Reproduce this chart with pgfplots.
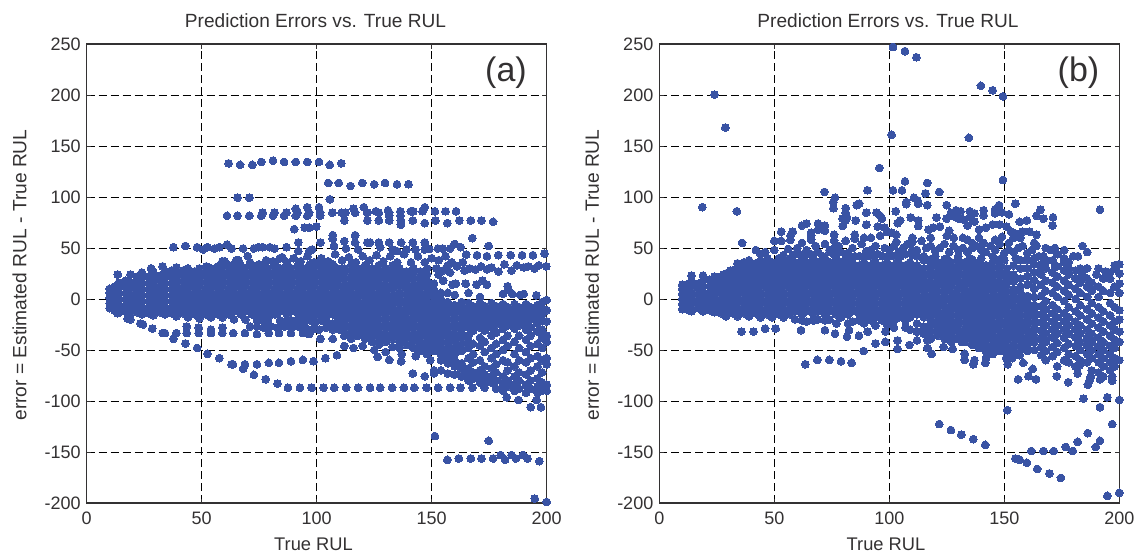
\documentclass[border=0pt]{standalone}
\usepackage{pgfplots}
\pgfplotsset{compat=1.18}
\usepackage{fontspec}
\setmainfont{Liberation Sans}
\definecolor{dotc}{HTML}{3953A4}
\definecolor{txt}{HTML}{333132}
\pgfplotsset{panel/.style={
  anchor=south west, scale only axis, width=460pt, height=459pt,
  xmin=0,xmax=200,ymin=-200,ymax=250,
  xtick={0,50,100,150,200}, ytick={-200,-150,-100,-50,0,50,100,150,200,250},
  clip=false, grid=major, tick align=inside, major tick length=4.5pt,
  grid style={black,line width=0.6pt,dash pattern=on 8pt off 4pt},
  axis line style={txt,line width=1.1pt}, tick style={txt,line width=0.7pt},
  /pgf/number format/assume math mode=true,
  tick label style={text=txt,font=\fontsize{18}{20}\selectfont},
  yticklabel style={xshift=-2.5pt}, xticklabel style={yshift=-5pt},
  scaled ticks=false,
}}
\tikzset{lbl/.style={text=txt,inner sep=0pt}}
\begin{document}
\begin{tikzpicture}[x=1pt,y=1pt]
\path[use as bounding box] (0,0) rectangle (1139,552);
\begin{axis}[panel,at={(86.7pt,49pt)}]
\addplot[only marks,mark=*,mark size=3.9pt,mark options={draw=dotc,fill=dotc,line width=0pt}] coordinates {
(61.7,133)(66.7,131.5)(72,131.5)(75.9,134.4)(81,135.7)(85.8,134.4)(90.9,134.4)(95.9,134.4)(101,134.4)(105.7,131.5)(110.7,133)
(105,113.8)(109.6,113.8)(114.7,110.8)(119.8,113.8)(125,112.5)(129.7,113.8)(134.9,112.5)(139.9,112.5)
(65.6,99.3)(70.7,99.3)(105.7,97.7)
(61,81.6)(65.6,81.6)(70.7,81.6)(75.9,81.6)(76.5,84.6)(81,81.6)(81.7,84.6)(85.8,81.6)(86.8,84.6)(90.9,81.6)(91.7,84.6)(90.9,88.5)(95.9,90)(95.9,81.6)(96.7,84.6)(101,90)(101.5,84.6)(101.5,81.6)(106.8,84.6)(110.9,84.6)(112.5,84.6)(116,88.5)(116.7,84.6)(120.5,90)(122,84.6)(125.7,86)(127,84.6)(131,87)(131.5,84.6)(131.5,81.6)(136.4,86)(136.4,81.6)(140.9,86)(142,86)(146,86)(147,90)(151.4,86)(156,86)(160.6,86)
(112,77)(122,77)(127,77)(131.5,77)(136.6,77)(136.6,72.8)(141.8,77)(147,74.4)(151.6,77)(156.8,74.4)(162,77)(167,77)(171.6,77)(176.7,75.7)
(90.2,68.5)(94.8,70)(96.7,70)(99.8,71)
(107,62.6)(107,59)(116.7,62.6)(112,56.7)(116.7,55.4)(122,55.4)(123.2,55.4)(127,55.4)(131.5,55.4)(136.7,55.4)(141.8,55.4)(147,55.4)(92,55.4)(101.6,55.4)(167.7,59.7)(174.8,52)(160,54)
(37.7,50.8)(42.9,52)(48,50.8)(50.6,48.5)(52.5,50.8)(55.7,49.5)(57.7,50.8)(61,53.4)(63,49.5)(68,49.5)(72.7,49.5)(74.6,50.8)(76.5,50.8)(79.6,50.8)(81.7,49.5)(86.9,50.8)(92,47)(96.7,47)(98,48.5)(107.5,52)(112.7,49.5)(118,48.5)(127.6,50.8)(133,48.5)(134.9,47)(139,48.5)(143,48.5)(147,48.5)(149,49)(152.7,49.5)(154.7,49.5)(158,49.5)(162.6,50.8)
(165,43.6)(169.7,43)(174,42)(179,43)(184.3,43)(189.3,43)(194,43)(199,44.6)
(157,33)(158.7,36)(161,32)(163.5,36)(164.3,28)(166.5,30)(169,29)(171.5,32)(174,29)(176,31)(179,27)(181.6,34)(184.7,28)(187,33)(190,31)(192,32)(194.7,30)(196.6,33)(199.8,32)
(153,24)(155,18)(159,14)(160.5,15)(164.8,15)(169.5,14)(172,18)(174,14)(183,12.5)(181,5)(185,5)(183.3,9)(188.5,4)(190,5)(195.5,3.6)(200,-1)
(66,38)(60,37)(64,34)(71,36)(75,34)(78,38)(81,37)(84,40)(87,36)(90,40)(93,37)(96,42)(99,36)(102,40)(105,37)(108,44)(111,38)(114,41)(117,36)(120,42)(123,38)(126,43)(129,37)(132,42)(135,36)(138,44)(141,36)(144,42)(147,36)(150,40)(153,38)(156,42)(148,30)(152,30)(155,28)(158,26)
(87.5,-87)(92.7,-87)(97.8,-87)(103,-87)(107.6,-87)(112.8,-87)(118,-87)(123.2,-87)(127.6,-87)(132.8,-87)(137.9,-87)(142.4,-87)(147.8,-87)(152.8,-87)(158,-87)(162.5,-87)(167.7,-87)
(83,-83)(77.8,-78.7)(72.7,-74.4)(68,-68.5)(63.6,-64)(57.7,-58)(52.5,-53.8)(48,-48)(42.9,-43.6)(37.7,-39)
(63,-64)(68.8,-64)(74,-64)(79.2,-62.6)(83.6,-62.6)(88.8,-61)(94,-59.7)(98.6,-61)(103.8,-58)(108.8,-55)
(28.5,-29)(33,-33.4)(34,-33.4)(39,-33.4)(43.5,-33.4)(48.7,-33.4)(54,-33.4)(59,-33.4)(63.7,-33.4)(68.8,-33.4)(74,-34.4)(79.2,-33.4)(83.6,-33.4)(88.8,-33.4)(94,-33.4)(96.7,-34.4)(101.6,-39)(107,-39)
(43.5,-27)(48.7,-28)(54,-30)(59,-28)(17.8,-19.3)(19,-20)(23.3,-24)(24.5,-25)(13.4,-14)
(71,-27)(74,-27)(77,-28)(80,-27)(83,-28)(86,-27)(89,-28)(92,-27)(95,-28)(98,-30)(101,-30)(104,-28)(107,-30)(110,-30)
(182.6,-96.4)(187.7,-99)(195.6,-99)(193,-106)(197.5,-106)(151.4,-134.4)(174.8,-139)(156.8,-157.7)(161.8,-156.4)(167,-156.4)(171.6,-156.4)(176.7,-156.4)(180,-153)(181.9,-157.7)(184.7,-153)(186.6,-156.4)(189.7,-153)(191.6,-156.4)(196.8,-159)(194.8,-195.7)(200,-199)
(141.8,-73)(147,-75.7)(149.4,-60)(136.7,-61)(131.5,-59.7)(126.5,-56.7)(112,-46)(116,-48)(120,-46)(125,-50)(130,-52)(137,-54)(143,-56)
(10,-9)(10,-4)(10,1)(10,6)(10,10)(12,-11)(12,-6)(12,0)(12,6)(12,12)(14,-13)(14,-7)(14,-1)(14,5)(14,11)(13.5,24)(14,16)
(17,-12)(17,-6)(17,0)(17,6)(17,12)(17,18)(19,-14)(19,-8)(19,-2)(19,4)(19,10)(19,16)(19,24)(22,-13)(22,-7)(22,-1)(22,5)(22,11)(22,17)(22,22)
(24,-15)(24,-9)(24,-3)(24,3)(24,9)(24,15)(24,21)(24,26)(27,-14)(27,-8)(27,-2)(27,4)(27,10)(27,16)(27,22)(28,30)(29,-16)(29,-10)(29,-4)(29,2)(29,8)(29,14)(29,20)(29,26)
(32,-13)(32,-7)(32,-1)(32,5)(32,11)(32,17)(32,23)(33,32)(34,-15)(34,-9)(34,-3)(34,3)(34,9)(34,15)(34,21)(34,27)(37,-14)(37,-8)(37,-2)(37,4)(37,10)(37,16)(37,22)(37,28)
(39,-17)(39,-11)(39,-5)(39,1)(39,7)(39,13)(39,19)(39,25)(39,31)(42,-14)(42,-8)(42,-2)(42,4)(42,10)(42,16)(42,22)(42,28)(44,-18)(44,-12)(44,-6)(44,0)(44,6)(44,12)(44,18)(44,24)(44,30)
(47,-15)(47,-9)(47,-3)(47,3)(47,9)(47,15)(47,21)(47,27)(49,-19)(49,-12)(49,-6)(49,0)(49,6)(49,12)(49,18)(49,24)(49,30)(52,-15)(52,-9)(52,-3)(52,3)(52,9)(52,15)(52,21)(52,27)(52,32)
(54,-18)(54,-12)(54,-6)(54,0)(54,6)(54,12)(54,18)(54,24)(54,30)(57,-15)(57,-9)(57,-3)(57,3)(57,9)(57,15)(57,21)(57,27)(57,32)(59,-18)(59,-12)(59,-6)(59,0)(59,6)(59,12)(59,18)(59,24)(59,30)(59,37)
(62,-15)(62,-9)(62,-3)(62,3)(62,9)(62,15)(62,21)(62,27)(62,33)(64,-20)(64,-12)(64,-6)(64,0)(64,6)(64,12)(64,18)(64,24)(64,30)(65,38)(67,-15)(67,-9)(67,-3)(67,3)(67,9)(67,15)(67,21)(67,27)(67,33)
(69,-20)(69,-12)(69,-6)(69,0)(69,6)(69,12)(69,18)(69,24)(69,30)(72,-15)(72,-9)(72,-3)(72,3)(72,9)(72,15)(72,21)(72,27)(72,33)(70,42)(74,-21)(74,-18)(74,-12)(74,-6)(74,0)(74,6)(74,12)(74,18)(74,24)(74,30)
(77,-21)(77,-15)(77,-9)(77,-3)(77,3)(77,9)(77,15)(77,21)(77,27)(77,33)(79,-24)(79,-18)(79,-12)(79,-6)(79,0)(79,6)(79,12)(79,18)(79,24)(79,30)(82,-15)(82,-9)(82,-3)(82,3)(82,9)(82,15)(82,21)(82,27)(82,33)
(84,-21)(84,-12)(84,-6)(84,0)(84,6)(84,12)(84,18)(84,24)(84,30)(85,41)(87,-21)(87,-15)(87,-9)(87,-3)(87,3)(87,9)(87,15)(87,21)(87,27)(87,34)(89,-21)(89,-12)(89,-6)(89,0)(89,6)(89,12)(89,18)(89,24)(89,30)
(92,-21)(92,-15)(92,-9)(92,-3)(92,3)(92,9)(92,15)(92,21)(92,27)(92,34)(94,-24)(94,-18)(94,-12)(94,-6)(94,0)(94,6)(94,12)(94,18)(94,24)(94,30)(97,-21)(97,-15)(97,-9)(97,-3)(97,3)(97,9)(97,15)(97,21)(97,27)(97,34)
(99,-24)(99,-18)(99,-12)(99,-6)(99,0)(99,6)(99,12)(99,18)(99,24)(99,30)(102,-21)(102,-15)(102,-9)(102,-3)(102,3)(102,9)(102,15)(102,21)(102,27)(102,34)(104,-22)(104,-18)(104,-12)(104,-6)(104,0)(104,6)(104,12)(104,18)(104,24)(104,30)
(107,-24)(107,-15)(107,-9)(107,-3)(107,3)(107,9)(107,15)(107,21)(107,27)(107,34)(109,-24)(109,-18)(109,-12)(109,-6)(109,0)(109,6)(109,12)(109,18)(109,24)(109,30)
(112,-36)(112,-30)(112,-24)(112,-18)(112,-12)(112,-6)(112,0)(112,6)(112,12)(112,18)(112,24)(112,30)
(115,-39)(115,-33)(115,-27)(115,-21)(115,-15)(115,-9)(115,-3)(115,3)(115,9)(115,15)(115,21)(115,27)(115,33)
(118,-36)(118,-30)(118,-24)(118,-18)(118,-12)(118,-6)(118,0)(118,6)(118,12)(118,18)(118,24)(118,30)
(121,-39)(121,-33)(121,-27)(121,-21)(121,-15)(121,-9)(121,-3)(121,3)(121,9)(121,15)(121,21)(121,27)(121,33)
(124,-42)(124,-36)(124,-30)(124,-24)(124,-18)(124,-12)(124,-6)(124,0)(124,6)(124,12)(124,18)(124,24)(124,30)
(127,-45)(127,-39)(127,-33)(127,-27)(127,-21)(127,-15)(127,-9)(127,-3)(127,3)(127,9)(127,15)(127,21)(127,27)(127,33)
(130,-42)(130,-36)(130,-30)(130,-24)(130,-18)(130,-12)(130,-6)(130,0)(130,6)(130,12)(130,18)(130,24)(130,30)
(133,-47)(133,-39)(133,-33)(133,-27)(133,-21)(133,-15)(133,-9)(133,-3)(133,3)(133,9)(133,15)(133,21)(133,27)(133,33)
(136,-48)(136,-42)(136,-36)(136,-30)(136,-24)(136,-18)(136,-12)(136,-6)(136,0)(136,6)(136,12)(136,18)(136,24)(136,30)
(139,-45)(139,-39)(139,-33)(139,-27)(139,-21)(139,-15)(139,-9)(139,-3)(139,3)(139,9)(139,15)(139,21)(139,27)
(142,-48)(142,-42)(142,-36)(142,-30)(142,-24)(142,-18)(142,-12)(142,-6)(142,0)(142,6)(142,12)(142,18)(142,24)(142,30)
(145,-51)(145,-45)(145,-39)(145,-33)(145,-27)(145,-21)(145,-15)(145,-9)(145,-3)(145,3)(145,9)(145,15)(145,21)(145,27)
(148,-54)(148,-48)(148,-42)(148,-36)(148,-30)(148,-24)(148,-18)(148,-12)(148,-6)(148,0)(148,6)(148,12)(148,18)(148,24)
(151,-51)(151,-45)(151,-39)(151,-33)(151,-27)(151,-21)(151,-15)(151,-9)(151,-3)(151,3)(151,9)(151,15)(151,-70)(151,-73)
(154,-60)(154,-54)(154,-48)(154,-42)(154,-36)(154,-30)(154,-24)(154,-18)(154,-12)(154,-6)(154,0)(154,6)(154,-70)
(157,-63)(157,-57)(157,-51)(157,-45)(157,-39)(157,-33)(157,-27)(157,-21)(157,-15)(157,-9)(157,-3)(157,6)(157,-73)
(160,-66)(160,-60)(160,-54)(160,-48)(160,-42)(160,-36)(160,-30)(160,-24)(160,-18)(160,-12)(160,-6)(160,4)(160,-74)
(163,-69)(163,-63)(163,-51)(163,-45)(163,-39)(163,-33)(163,-27)(163,-21)(163,-15)(163,-9)(163,-3)(163,-76)
(166,6)(166,-4)(166,-10)(166,-16)(166,-22)(166,-28)(166,-36)(166,-42)(166,-48)(166,-58)(166,-68)(166,-74)(166,-80)
(168,-7)(168,-13)(168,-19)(168,-25)(168,-31)(168,-44)(168,-54)(168,-62)(168,-72)(168,-78)
(171,2)(171,-4)(171,-10)(171,-16)(171,-22)(171,-28)(171,-38)(171,-46)(171,-60)(171,-70)(171,-76)(171,-82)
(173,-7)(173,-13)(173,-19)(173,-25)(173,-31)(173,-42)(173,-52)(173,-66)(173,-74)(173,-80)(173,-87)
(176,-4)(176,-10)(176,-16)(176,-22)(176,-28)(176,-36)(176,-48)(176,-58)(176,-68)(176,-76)(176,-82)
(178,-7)(178,-13)(178,-19)(178,-25)(178,-33)(178,-44)(178,-54)(178,-64)(178,-72)(178,-80)(178,-88)
(181,-5)(181,-11)(181,-17)(181,-23)(181,-29)(181,-40)(181,-50)(181,-60)(181,-76)(181,-84)(181,-90)
(183,-8)(183,-14)(183,-20)(183,-26)(183,-36)(183,-46)(183,-62)(183,-70)(183,-80)(183,-86)
(186,-5)(186,-11)(186,-17)(186,-23)(186,-29)(186,-42)(186,-54)(186,-66)(186,-76)(186,-84)(186,-90)
(188,-8)(188,-14)(188,-20)(188,-26)(188,-36)(188,-48)(188,-60)(188,-72)(188,-80)(188,-88)
(191,-5)(191,-11)(191,-17)(191,-23)(191,-30)(191,-40)(191,-52)(191,-62)(191,-74)(191,-84)(191,-92)
(193,-8)(193,-14)(193,-20)(193,-28)(193,-36)(193,-46)(193,-58)(193,-70)(193,-80)(193,-88)
(196,-6)(196,-12)(196,-18)(196,-24)(196,-32)(196,-44)(196,-56)(196,-66)(196,-78)(196,-86)(196,-92)
(198,-3)(198,-9)(198,-15)(198,-21)(198,-30)(198,-38)(198,-48)(198,-60)(198,-72)(198,-82)(198,-90)
(200,-11)(200,-22)(200,-36)(200,-42)(200,-58)(200,-64)(200,-84)(200,-90)
};
\end{axis}
\begin{axis}[panel,at={(659.3pt,49pt)}]
\addplot[only marks,mark=*,mark size=3.9pt,mark options={draw=dotc,fill=dotc,line width=0pt}] coordinates {
(101.6,247)(106.8,243)(111.8,237)(139.8,209)(144.9,204.6)(149.4,198.7)(24,200.3)(28.7,168)(101,161)(134.6,158)(95.7,128.5)(149.4,116.7)(106.8,115.4)(116.5,113.8)(71.8,105)(90.5,106.6)(101.6,106.6)(105.5,106.6)(121.7,105)(115.7,103.6)(110.7,99.3)(112.3,96.7)(76.4,99.3)(75.7,95)(75.7,89)(107.4,95)(107.4,93)(112.6,93.4)(116.5,92)(124.9,92)(147.7,92)(154.8,93.4)(85.8,92)(86.9,93.4)(18.7,90)(33.7,86)(191.6,87.5)(165.7,87.5)(171.2,80)(167,78.7)(164,81.6)(171,72)(159.8,77)(156.7,75.7)
(81,89)(81,84.6)(81.6,80)(79.7,78.7)(81,77)(79.7,71.5)(85.4,77)(90,84.6)(90,72.8)(94.5,84.6)(96,81.6)(96.8,78.7)(102.8,86)(104.7,77)(103.6,74.4)(109.3,80)(112.6,77)(112.6,71.5)(120.5,80)(124.9,78.7)(126.8,84.6)
(129,87)(131,86)(128,81)(130,79)(132,78)(135,86)(137,84)(135,80)(137,76)(134,72)(141,87)(141,82)(146,88)(146,84)(149,85)(152,83)(145,73)(142,70)(139,68)(148,73)(151,71)(153,66)(154,60)(158,66)(161,66)(164,63)(163,55)
(36,55)(66,65)(66,58)(72,72)(72,67)(62,72)(64,74)(69,74)(69,68)(53,66)(57,62)(57,58)(58,66)(50,57)(53,57)(62,55)(66,62)(72,54)(76,63)(76,57)(81,57)(85,63)(85,59)(89,60)(92,60)(95,71)(98,70)(99,66)(101,65)(103,63)(96,62)(103,56)(110,60)(110,56)(114,57)(118,60)(117,68)(119,70)(122,71)(125,62)(126,67)(128,60)(132,60)(134,58)(136,55)(139,60)(141,55)(146,58)(149,61)(152,55)(155,64)(157,60)(158,52)(163,40)(167,42)(170,48)(172,50)(176,48)(184,52)(180,42)(182,42)(176,36)(186,46)(186,30)(194,27)(198,33)(200,34)
(50,48)(46,46)(44,44)(39,38)(36,33)(34,35)(31,28)(28,24)(26,20)(42,48)(56,49)(64,48)(76,50)(82,45)(90,47)(100,48)(110,48)(120,47)(130,48)(140,48)(150,45)(160,45)(166,34)(172,32)(178,30)(184,24)(190,24)(196,20)(200,25)
(60,50)(68,52)(74,48)(78,52)(84,50)(88,54)(92,48)(94,52)(98,50)(102,52)(104,46)(106,50)(108,54)(112,48)(116,50)(118,52)(122,50)(124,54)(126,46)(128,52)(132,50)(134,46)(136,50)(138,52)(142,46)(144,52)(146,48)(148,54)(152,48)(154,46)(156,50)(162,48)(164,52)(168,50)
(58,42)(61,44)(66,44)(71,42)(76,44)(81,40)(85,42)(90,42)(95,44)(100,42)(105,42)(110,43)(115,42)(120,42)(125,40)(130,42)(135,40)(140,40)(145,42)(150,38)(155,40)(160,38)(165,42)(168,38)
(35.7,-32)(41,-32)(46,-29)(50.6,-29)(61.6,-30.5)(72,-30.5)(76.4,-34)(81.6,-37)(82.5,-30.5)(86.8,-36)(90.6,-32)(88.8,-51)(94,-43.6)(98.3,-42)(98.3,-32)(103.6,-40.6)(103.6,-49)(108.8,-45)(112,-40.6)(116.5,-40.6)(116.5,-48)(118.4,-53.8)(123.6,-47)(127.6,-49)(131.5,-42)(132.8,-53.8)(132.8,-59.7)(136.5,-64)(141.7,-62.6)(137,-60)(142,-58)
(63.5,-64)(68.7,-59.7)(73.9,-59.7)(79,-61)(83.6,-62.6)(151.5,-64)(150.8,-58)(153.5,-58)(156.7,-55)(158.2,-62.6)(156,-78.7)(160.5,-75.7)(163.8,-78.7)(162.4,-68.5)(172.8,-75.7)(177.8,-81.6)(181.9,-73)(182.7,-65)(186.3,-84)(187,-80)(187.6,-76)(191.6,-78.7)(196.9,-80)(196.9,-76)(184.4,-97.7)(194.8,-96.4)(200,-99)(151.3,-109)(191.6,-106)(196.9,-122.6)(121.7,-122.6)(126.8,-128.5)(131.3,-133)(136.5,-137.4)(141.7,-143)(186.3,-131.5)(181.9,-140)(176.7,-145)(191.6,-139)(189.8,-145)(179.8,-149)(171.5,-149)(167,-149)(161.7,-149)(154.8,-156.4)(156.7,-157.7)(159.8,-160.6)(164.3,-166.6)(169.6,-171)(174.6,-175.4)(194.8,-193)(200,-190)
(10,-10)(10,-5)(10,0)(10,5)(10,10)(10,14)(12,-10)(12,-4)(12,2)(12,8)(12,14)(14,-12)(14,-6)(14,0)(14,6)(14,12)(14,18)(14,23)(17,-9)(17,-3)(17,3)(17,9)(17,15)(19,-12)(19,-6)(19,0)(19,6)(19,12)(19,18)(19,23)
(22,-11)(22,-5)(22,1)(22,7)(22,13)(22,19)(24,-13)(24,-7)(24,-1)(24,5)(24,11)(24,17)(24,22)(27,-14)(27,-8)(27,-2)(27,4)(27,10)(27,16)(27,22)(29,-17)(29,-11)(29,-5)(29,1)(29,7)(29,13)(29,19)(29,25)
(32,-14)(32,-8)(32,-2)(32,4)(32,10)(32,16)(32,22)(32,28)(34,-17)(34,-11)(34,-5)(34,1)(34,7)(34,13)(34,19)(34,25)(34,31)(37,-14)(37,-8)(37,-2)(37,4)(37,10)(37,16)(37,22)(37,28)(37,36)(39,-17)(39,-11)(39,-5)(39,1)(39,7)(39,13)(39,19)(39,25)(39,31)
(42,-14)(42,-8)(42,-2)(42,4)(42,10)(42,16)(42,22)(42,28)(42,35)(44,-18)(44,-12)(44,-6)(44,0)(44,6)(44,12)(44,18)(44,24)(44,30)(44,37)(47,-15)(47,-9)(47,-3)(47,3)(47,9)(47,15)(47,21)(47,27)(47,33)(47,40)(49,-18)(49,-12)(49,-6)(49,0)(49,6)(49,12)(49,18)(49,24)(49,30)(49,36)
(52,-15)(52,-9)(52,-3)(52,3)(52,9)(52,15)(52,21)(52,27)(52,33)(52,40)(54,-18)(54,-12)(54,-6)(54,0)(54,6)(54,12)(54,18)(54,24)(54,30)(54,36)(54,43)(57,-15)(57,-9)(57,-3)(57,3)(57,9)(57,15)(57,21)(57,27)(57,33)(57,40)
(59,-20)(59,-12)(59,-6)(59,0)(59,6)(59,12)(59,18)(59,24)(59,30)(59,36)(59,44)(62,-21)(62,-15)(62,-9)(62,-3)(62,3)(62,9)(62,15)(62,21)(62,27)(62,33)(62,40)(64,-22)(64,-12)(64,-6)(64,0)(64,6)(64,12)(64,18)(64,24)(64,30)(64,36)(64,44)
(67,-21)(67,-15)(67,-9)(67,-3)(67,3)(67,9)(67,15)(67,21)(67,27)(67,33)(67,40)(69,-20)(69,-12)(69,-6)(69,0)(69,6)(69,12)(69,18)(69,24)(69,30)(69,36)(69,46)(72,-21)(72,-15)(72,-9)(72,-3)(72,3)(72,9)(72,15)(72,21)(72,27)(72,33)(72,40)
(74,-20)(74,-12)(74,-6)(74,0)(74,6)(74,12)(74,18)(74,24)(74,30)(74,36)(74,46)(77,-24)(77,-15)(77,-9)(77,-3)(77,3)(77,9)(77,15)(77,21)(77,27)(77,33)(77,40)(79,-18)(79,-12)(79,-6)(79,0)(79,6)(79,12)(79,18)(79,24)(79,30)(79,36)(79,46)
(82,-24)(82,-15)(82,-9)(82,-3)(82,3)(82,9)(82,15)(82,21)(82,27)(82,33)(82,40)(84,-22)(84,-12)(84,-6)(84,0)(84,6)(84,12)(84,18)(84,24)(84,30)(84,36)(87,-21)(87,-15)(87,-9)(87,-3)(87,3)(87,9)(87,15)(87,21)(87,27)(87,33)(87,42)
(89,-24)(89,-18)(89,-12)(89,-6)(89,0)(89,6)(89,12)(89,18)(89,24)(89,30)(89,36)(92,-21)(92,-15)(92,-9)(92,-3)(92,3)(92,9)(92,15)(92,21)(92,27)(92,33)(92,42)(94,-26)(94,-18)(94,-12)(94,-6)(94,0)(94,6)(94,12)(94,18)(94,24)(94,30)(94,36)
(97,-21)(97,-15)(97,-9)(97,-3)(97,3)(97,9)(97,15)(97,21)(97,27)(97,33)(97,42)(99,-25)(99,-18)(99,-12)(99,-6)(99,0)(99,6)(99,12)(99,18)(99,24)(99,30)(99,36)(102,-28)(102,-21)(102,-15)(102,-9)(102,-3)(102,3)(102,9)(102,15)(102,21)(102,27)(102,33)(102,42)
(104,-18)(104,-12)(104,-6)(104,0)(104,6)(104,12)(104,18)(104,24)(104,30)(104,36)(107,-28)(107,-21)(107,-15)(107,-9)(107,-3)(107,3)(107,9)(107,15)(107,21)(107,27)(107,33)(107,44)(109,-30)(109,-18)(109,-12)(109,-6)(109,0)(109,6)(109,12)(109,18)(109,24)(109,30)(109,36)
(112,-32)(112,-24)(112,-15)(112,-9)(112,-3)(112,3)(112,9)(112,15)(112,21)(112,27)(112,33)(112,42)(115,-34)(115,-27)(115,-18)(115,-12)(115,-6)(115,0)(115,6)(115,12)(115,18)(115,24)(115,30)(115,38)
(118,-39)(118,-33)(118,-27)(118,-21)(118,-15)(118,-9)(118,-3)(118,3)(118,9)(118,15)(118,21)(118,27)(118,33)(118,39)
(121,-36)(121,-30)(121,-24)(121,-18)(121,-12)(121,-6)(121,0)(121,6)(121,12)(121,18)(121,24)(121,30)(121,36)
(124,-39)(124,-33)(124,-27)(124,-21)(124,-15)(124,-9)(124,-3)(124,3)(124,9)(124,15)(124,21)(124,27)(124,33)(124,39)
(127,-42)(127,-36)(127,-30)(127,-24)(127,-18)(127,-12)(127,-6)(127,0)(127,6)(127,12)(127,18)(127,24)(127,30)(127,36)
(130,-39)(130,-33)(130,-27)(130,-21)(130,-15)(130,-9)(130,-3)(130,3)(130,9)(130,15)(130,21)(130,27)(130,33)(130,39)
(133,-42)(133,-36)(133,-30)(133,-24)(133,-18)(133,-12)(133,-6)(133,0)(133,6)(133,12)(133,18)(133,24)(133,30)(133,36)
(136,-45)(136,-39)(136,-33)(136,-27)(136,-21)(136,-15)(136,-9)(136,-3)(136,3)(136,9)(136,15)(136,21)(136,27)(136,33)(136,39)
(139,-48)(139,-42)(139,-36)(139,-30)(139,-24)(139,-18)(139,-12)(139,-6)(139,0)(139,6)(139,12)(139,18)(139,24)(139,30)(139,36)
(142,-51)(142,-45)(142,-39)(142,-33)(142,-27)(142,-21)(142,-15)(142,-9)(142,-3)(142,3)(142,9)(142,15)(142,21)(142,27)(142,33)
(145,-54)(145,-48)(145,-42)(145,-36)(145,-30)(145,-24)(145,-18)(145,-12)(145,-6)(145,0)(145,6)(145,12)(145,18)(145,24)(145,30)(145,36)
(148,-51)(148,-45)(148,-39)(148,-33)(148,-27)(148,-21)(148,-15)(148,-9)(148,-3)(148,3)(148,9)(148,15)(148,21)(148,27)(148,33)(148,39)
(151,-54)(151,-48)(151,-42)(151,-36)(151,-30)(151,-24)(151,-18)(151,-12)(151,-6)(151,0)(151,6)(151,12)(151,18)(151,24)(151,30)
(154,-51)(154,-45)(154,-39)(154,-33)(154,-27)(154,-21)(154,-15)(154,-9)(154,-3)(154,3)(154,9)(154,17)(154,24)(154,33)
(157,-48)(157,-42)(157,-36)(157,-30)(157,-24)(157,-18)(157,-12)(157,-6)(157,0)(157,6)(157,12)(157,20)(157,30)(157,38)
(160,-51)(160,-45)(160,-39)(160,-33)(160,-27)(160,-21)(160,-15)(160,-9)(160,-3)(160,3)(160,14)(160,22)(160,30)
(163,-50)(163,-42)(163,-36)(163,-30)(163,-24)(163,-18)(163,-12)(163,-6)(163,2)(163,10)(163,18)(163,26)(163,34)
(166,-55)(166,-47)(166,-39)(166,-31)(166,-23)(166,-15)(166,-7)(166,3)(166,14)(166,24)(166,30)
(168,-60)(168,-51)(168,-42)(168,-34)(168,-26)(168,-18)(168,-10)(168,-2)(168,8)(168,18)(168,30)(168,36)
(171,-56)(171,-47)(171,-38)(171,-30)(171,-22)(171,-14)(171,-6)(171,6)(171,16)(171,26)(171,38)
(173,-66)(173,-52)(173,-43)(173,-34)(173,-26)(173,-18)(173,-10)(173,2)(173,12)(173,22)(173,32)(173,44)
(176,-60)(176,-48)(176,-38)(176,-30)(176,-22)(176,-14)(176,-2)(176,8)(176,18)(176,28)(176,40)
(178,-62)(178,-54)(178,-44)(178,-34)(178,-26)(178,-18)(178,-8)(178,4)(178,14)(178,24)(178,36)
(181,-66)(181,-56)(181,-46)(181,-38)(181,-30)(181,-22)(181,-12)(181,0)(181,10)(181,20)(181,28)
(183,-60)(183,-50)(183,-42)(183,-34)(183,-26)(183,-16)(183,-6)(183,6)(183,16)(183,30)
(186,-62)(186,-54)(186,-46)(186,-38)(186,-30)(186,-20)(186,-10)(186,2)(186,12)(186,20)
(188,-70)(188,-58)(188,-50)(188,-42)(188,-34)(188,-24)(188,-14)(188,-4)(188,8)(188,16)
(191,-72)(191,-62)(191,-54)(191,-46)(191,-38)(191,-28)(191,-18)(191,-8)(191,2)(191,12)(191,30)
(193,-76)(193,-66)(193,-58)(193,-50)(193,-42)(193,-32)(193,-22)(193,-12)(193,8)(193,20)
(196,-70)(196,-62)(196,-54)(196,-46)(196,-36)(196,-26)(196,-16)(196,-4)(196,6)(196,26)
(198,-66)(198,-58)(198,-48)(198,-40)(198,-30)(198,-22)(198,-8)(198,12)(198,30)
(200,-60)(200,-42)(200,-32)(200,-20)(200,-11)(200,6)(200,15)
};
\end{axis}
\node[lbl,font=\fontsize{19.1}{22}\selectfont] at (315.5,531) {Prediction Errors vs. True RUL};
\node[lbl,font=\fontsize{19.1}{22}\selectfont] at (888,531) {Prediction Errors vs. True RUL};
\node[lbl,font=\fontsize{18.3}{21}\selectfont] at (313.5,8) {True RUL};
\node[lbl,font=\fontsize{18.3}{21}\selectfont] at (886,8) {True RUL};
\node[lbl,rotate=90,font=\fontsize{19.2}{22}\selectfont] at (19.5,277) {error = Estimated RUL - True RUL};
\node[lbl,rotate=90,font=\fontsize{19.2}{22}\selectfont] at (592,277) {error = Estimated RUL - True RUL};
\node[lbl,font=\fontsize{34}{38}\selectfont] at (506,479.5) {(a)};
\node[lbl,font=\fontsize{34}{38}\selectfont] at (1078.5,479.5) {(b)};
\end{tikzpicture}
\end{document}
